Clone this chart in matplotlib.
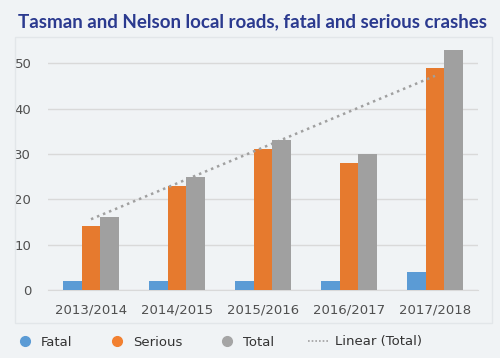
import matplotlib.pyplot as plt
import numpy as np
from matplotlib.lines import Line2D
from matplotlib.patches import Rectangle

years = ['2013/2014', '2014/2015', '2015/2016', '2016/2017', '2017/2018']
fatal = [2, 2, 2, 2, 4]
serious = [14, 23, 31, 28, 49]
total = [16, 25, 33, 30, 53]

c_fatal = '#5b9bd5'
c_serious = '#e67a2e'
c_total = '#a0a0a0'
bg = '#f0f3f5'

fig = plt.figure(figsize=(5, 3.58), dpi=100, facecolor=bg)
# faint panel frame
fig.patches.append(Rectangle((15/500, 1-323/358), 477/500, 286/358, transform=fig.transFigure,
                             fill=False, edgecolor='#e2e6e9', lw=1))

ax = fig.add_axes([48/500, 1-290/358, 430/500, 245/358])
ax.set_facecolor(bg)

x = np.arange(len(years))
w = 0.22
ax.bar(x - w, fatal, w, color=c_fatal, zorder=3)
ax.bar(x, serious, w, color=c_serious, zorder=3)
ax.bar(x + w, total, w, color=c_total, zorder=3)

# linear trend of total
k, b = np.polyfit(x, total, 1)
ax.plot(x, k * x + b, color='#a0a0a0', lw=1.8, linestyle=(0, (1, 1.6)), zorder=4)

ax.set_xlim(-0.5, len(years) - 0.5)
ax.set_ylim(0, 54)
ax.set_yticks(range(0, 51, 10))
ax.set_xticks(x)
ax.set_xticklabels(years)
ax.grid(axis='y', color='#d9d9d9', lw=1, zorder=0)
for s in ['top', 'right', 'left']:
    ax.spines[s].set_visible(False)
ax.spines['bottom'].set_color('#d9d9d9')
ax.tick_params(length=0, labelsize=9.5, colors='#505050', pad=10)
ax.tick_params(axis='y', pad=12)

fig.text(0.505, 1-22/358, 'Tasman and Nelson local roads, fatal and serious crashes',
         ha='center', va='center', fontsize=13.5, fontweight='bold', color='#2b3a8f',
         family='Lato')

handles = [
    Line2D([], [], marker='o', ls='none', color='#5b9bd5', markersize=7),
    Line2D([], [], marker='o', ls='none', color='#f28030', markersize=7),
    Line2D([], [], marker='o', ls='none', color='#a5a5a5', markersize=7),
    Line2D([], [], color='#a0a0a0', lw=1.2, linestyle=(0, (1, 1.2))),
]
labels = ['Fatal', 'Serious', 'Total', 'Linear (Total)']
fig.legend(handles, labels, loc='center left', bbox_to_anchor=(0.005, 1-342/358), ncol=4,
           frameon=False, fontsize=9.5, labelcolor='#333333', columnspacing=2.6,
           handlelength=1.6, handletextpad=0.4)

fig.savefig('out.png', dpi=100, facecolor=bg)
